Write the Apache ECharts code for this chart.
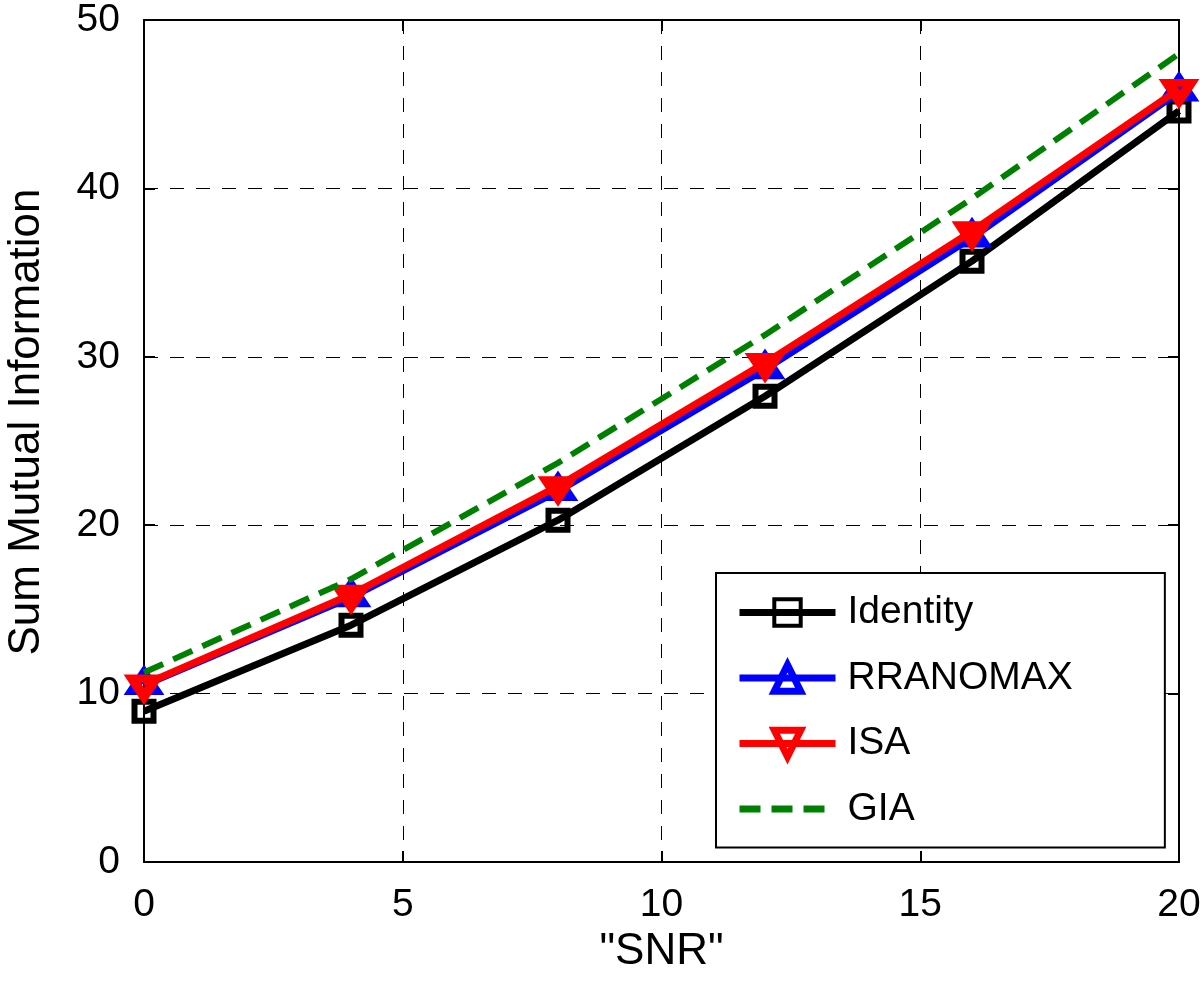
<!DOCTYPE html>
<html>
<head>
<meta charset="utf-8">
<script src="https://cdn.jsdelivr.net/npm/echarts@6/dist/echarts.min.js"></script>
<style>html,body{margin:0;padding:0;background:#fff;}#c{width:1200px;height:985px;}</style>
</head>
<body>
<div id="c"></div>
<script>
const snr = [0, 4, 8, 12, 16, 20];
const identity = [8.95, 14.06, 20.3, 27.66, 35.68, 44.6];
const rranomax = [10.5, 15.72, 22.02, 29.26, 37.08, 45.75];
const isa = [10.54, 15.88, 22.32, 29.64, 37.46, 45.91];
const gia = [11.25, 16.8, 23.7, 31.3, 39.4, 48.0];
const names = ['Identity', 'RRANOMAX', 'ISA', 'GIA'];

const pairs = arr => snr.map((x, i) => [x, arr[i]]);
const FONT = 'Liberation Sans, Arial, Helvetica, sans-serif';
const chart = echarts.init(document.getElementById('c'));
const axLine = {show: true, onZero: false, lineStyle: {color: '#000', width: 2}};
const axTick = {show: true, inside: true, length: 11, lineStyle: {color: '#000', width: 2}};
const gridLine = {show: true, lineStyle: {color: '#000', width: 1, type: [14, 12]}};
chart.setOption({
  animation: false,
  backgroundColor: '#fff',
  grid: {left: 144, right: 21, top: 20, bottom: 123, containLabel: false, outerBoundsMode: 'none'},
  xAxis: [
    {
      type: 'value', min: 0, max: 20, interval: 5, position: 'bottom',
      name: '"SNR"', nameLocation: 'middle', nameGap: 56,
      nameTextStyle: {fontSize: 44, color: '#000', fontFamily: FONT},
      axisLabel: {fontSize: 39, color: '#000', fontFamily: FONT, margin: 24},
      axisLine: axLine, axisTick: axTick, splitLine: gridLine
    },
    {
      type: 'value', min: 0, max: 20, interval: 5, position: 'top',
      axisLabel: {show: false}, splitLine: {show: false},
      axisLine: axLine, axisTick: axTick
    }
  ],
  yAxis: [
    {
      type: 'value', min: 0, max: 50, interval: 10, position: 'left',
      name: 'Sum Mutual Information', nameLocation: 'middle', nameGap: 95,
      nameTextStyle: {fontSize: 44, color: '#000', fontFamily: FONT, padding: [0, 0, 0, 38]},
      axisLabel: {fontSize: 39, color: '#000', fontFamily: FONT, margin: 24},
      axisLine: axLine, axisTick: axTick, splitLine: gridLine
    },
    {
      type: 'value', min: 0, max: 50, interval: 10, position: 'right',
      axisLabel: {show: false}, splitLine: {show: false},
      axisLine: axLine, axisTick: axTick
    }
  ],
  legend: {
    orient: 'vertical', left: 716, top: 573,
    data: [
      {name: names[0], itemStyle: {borderWidth: 4}},
      {name: names[1], itemStyle: {borderWidth: 7}},
      {name: names[2], itemStyle: {borderWidth: 7}},
      {name: names[3], itemStyle: {color: 'rgba(0,0,0,0)', borderWidth: 0}}
    ],
    itemWidth: 96, itemHeight: 33, itemGap: 26.5,
    lineStyle: {width: 7},
    padding: [20, 92, 19, 20],
    borderColor: '#000', borderWidth: 2, backgroundColor: '#fff', borderRadius: 0,
    textStyle: {fontSize: 39, color: '#000', fontFamily: FONT, padding: [0, 0, 0, 7]}
  },
  series: [
    {
      name: names[0], type: 'line', data: pairs(identity),
      symbol: 'rect', symbolSize: 19,
      lineStyle: {color: '#000', width: 7},
      itemStyle: {color: 'rgba(0,0,0,0)', borderColor: '#000', borderWidth: 6},
      z: 2
    },
    {
      name: names[1], type: 'line', data: pairs(rranomax),
      symbol: 'triangle', symbolSize: [24, 18], symbolOffset: [0, -3],
      lineStyle: {color: '#0000ff', width: 7},
      itemStyle: {color: 'rgba(0,0,0,0)', borderColor: '#0000ff', borderWidth: 9},
      z: 3
    },
    {
      name: names[2], type: 'line', data: pairs(isa),
      symbol: 'triangle', symbolRotate: 180, symbolSize: [24, 18], symbolOffset: [0, 3],
      lineStyle: {color: '#ff0000', width: 7},
      itemStyle: {color: 'rgba(0,0,0,0)', borderColor: '#ff0000', borderWidth: 9},
      z: 4
    },
    {
      name: names[3], type: 'line', data: pairs(gia),
      symbol: 'none', showSymbol: false,
      lineStyle: {color: '#008000', width: 6, type: [21, 11]},
      itemStyle: {color: '#008000'},
      z: 5
    }
  ]
});
</script>
</body>
</html>
